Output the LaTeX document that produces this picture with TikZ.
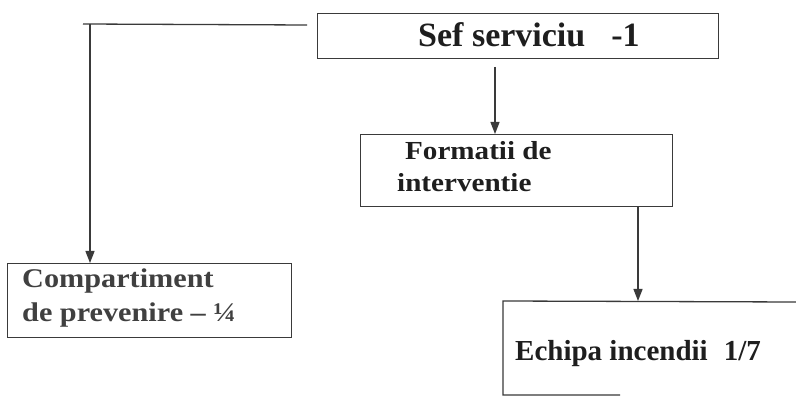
\documentclass[tikz,border=0pt]{standalone}
\usepackage{fontspec}
\setmainfont{Liberation Serif}
\newfontfamily\wideserif[FakeStretch=1.12]{Liberation Serif}
\usetikzlibrary{arrows.meta}
\definecolor{inkline}{HTML}{3A3A3A}
\definecolor{inktext}{HTML}{1E1E1E}
\begin{document}
\begin{tikzpicture}[x=1pt,y=-1pt,
  boxnode/.style={draw=inkline,line width=1.3pt,inner sep=0pt,anchor=north west},
  lbl/.style={inner sep=0pt,anchor=base west,text=inktext,font=\bfseries},
  conn/.style={draw=inkline,line width=1.3pt},
  arr/.style={conn,-{Triangle[length=12pt,width=9pt]}}]
\useasboundingbox (0,0) rectangle (796,403);
\fill[white] (0,0) rectangle (796,403);
% boxes
\node[boxnode,minimum width=401pt,minimum height=45pt] (sef) at (317,13) {};
\node[boxnode,minimum width=312pt,minimum height=72pt] (form) at (360,134) {};
\node[boxnode,minimum width=284pt,minimum height=74pt] (comp) at (7,263) {};
\coordinate (echNW) at (503,301);
\coordinate (echNE) at (796,302);
\coordinate (echSW) at (503,395);
\coordinate (echSE) at (620,395);
\draw[conn] (echNE) -- (echNW) -- (echSW) -- (echSE);
\coordinate (ech) at (638,301);
% texts
\node[lbl,font=\bfseries\fontsize{34}{40}\selectfont] (tsef) at (418,47) {Sef serviciu\hspace{26pt}-1};
\node[lbl,font=\bfseries\wideserif\fontsize{26}{30}\selectfont] (tf1) at (405,160) {Formatii de};
\node[lbl,font=\bfseries\wideserif\fontsize{26}{30}\selectfont] (tf2) at (397,192) {interventie};
\node[lbl,text=inktext!85,font=\bfseries\wideserif\fontsize{27}{30}\selectfont] (tc1) at (22,288) {Compartiment};
\node[lbl,text=inktext!85,font=\bfseries\wideserif\fontsize{27}{30}\selectfont] (tc2) at (22,322) {de prevenire – ¼};
\node[lbl,font=\bfseries\fontsize{29}{34}\selectfont] (te) at (515,361) {Echipa incendii\hspace{16pt}1/7};
% connectors
\coordinate (hstart) at (307,25);
\coordinate (corner) at (90,24);
\coordinate (hend) at (83,24);
\coordinate (sefout) at (495,67);
\draw[conn] (hstart) -- (hend);
\draw[arr] (corner) -- (corner |- comp.north);
\draw[arr] (sefout) -- (sefout |- form.north);
\draw[arr] (form.south -| ech) -- (ech);
\end{tikzpicture}
\end{document}
